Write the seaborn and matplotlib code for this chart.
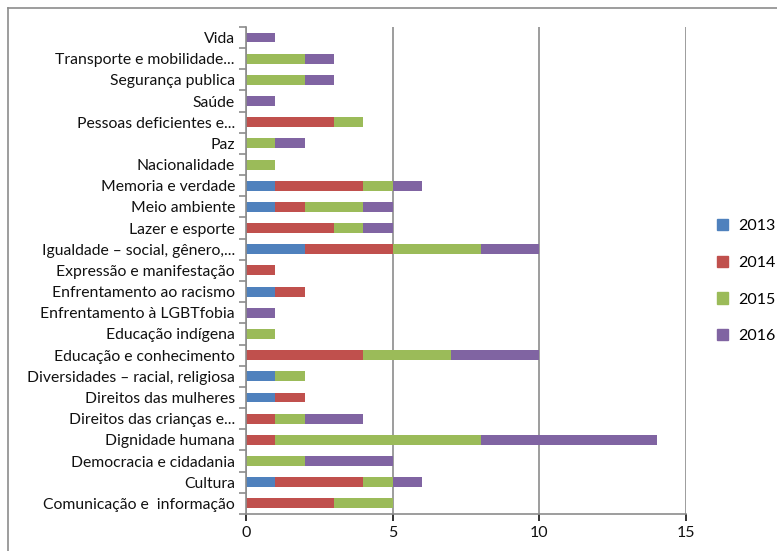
import numpy as np
import pandas as pd
import seaborn as sns
import matplotlib.pyplot as plt
from matplotlib.lines import Line2D
from matplotlib.patches import Patch

categorias = [
    "Vida",
    "Transporte e mobilidade...",
    "Segurança publica",
    "Saúde",
    "Pessoas deficientes e...",
    "Paz",
    "Nacionalidade",
    "Memoria e verdade",
    "Meio ambiente",
    "Lazer e esporte",
    "Igualdade \u2013 social, gênero,...",
    "Expressão e manifestação",
    "Enfrentamento ao racismo",
    "Enfrentamento à LGBTfobia",
    "Educação indígena",
    "Educação e conhecimento",
    "Diversidades \u2013 racial, religiosa",
    "Direitos das mulheres",
    "Direitos das crianças e...",
    "Dignidade humana",
    "Democracia e cidadania",
    "Cultura",
    "Comunicação e  informação",
]
anni = ["2013", "2014", "2015", "2016"]
v2013 = [0, 0, 0, 0, 0, 0, 0, 1, 1, 0, 2, 0, 1, 0, 0, 0, 1, 1, 0, 0, 0, 1, 0]
v2014 = [0, 0, 0, 0, 3, 0, 0, 3, 1, 3, 3, 1, 1, 0, 0, 4, 0, 1, 1, 1, 0, 3, 3]
v2015 = [0, 2, 2, 0, 1, 1, 1, 1, 2, 1, 3, 0, 0, 0, 1, 3, 1, 0, 1, 7, 2, 1, 2]
v2016 = [1, 1, 1, 1, 0, 1, 0, 1, 1, 1, 2, 0, 0, 1, 0, 3, 0, 0, 2, 6, 3, 1, 0]
colori = ["#4F81BD", "#C0504D", "#9BBB59", "#8064A2"]

plt.rcParams["font.family"] = ["Lato", "DejaVu Sans"]

df = pd.DataFrame({"cat": categorias, "2013": v2013, "2014": v2014,
                   "2015": v2015, "2016": v2016})
cum = df[anni].cumsum(axis=1)

fig = plt.figure(figsize=(7.77, 5.51), dpi=100)
ax = fig.add_axes([0.3166, 0.0672, 0.5663, 0.884])

# barre sovrapposte dal totale verso il basso
for anno, col in reversed(list(zip(anni, colori))):
    sns.barplot(x=cum[anno], y=df["cat"], color=col, width=0.47,
                saturation=1, ax=ax, orient="h")

ax.set_xlim(0, 15)
ax.set_ylim(len(categorias) - 0.5, -0.5)
ax.set_xticks([0, 5, 10, 15])
ax.set_xlabel("")
ax.set_ylabel("")
ax.grid(axis="x", color="#8c8c8c", linewidth=1.2)
ax.set_axisbelow(True)
for s in ["top", "right"]:
    ax.spines[s].set_visible(False)
for s in ["left", "bottom"]:
    ax.spines[s].set_color("#8c8c8c")
    ax.spines[s].set_linewidth(1.2)
ax.set_yticks(np.arange(-0.5, len(categorias)), minor=True)
ax.tick_params(axis="y", which="major", length=0, pad=8, labelsize=11.3, colors="#111111")
ax.tick_params(axis="y", which="minor", length=5, color="#8c8c8c", width=1.2)
ax.tick_params(axis="x", length=5, color="#8c8c8c", width=1.2, labelsize=11.5, pad=4)
ax.tick_params(axis="x", colors="#111111")

handles = [Patch(color=c) for c in colori]
ax.legend(handles, anni, loc="center left", bbox_to_anchor=(1.038, 0.478), frameon=False,
          fontsize=11.5, handlelength=0.7, handleheight=0.7, handletextpad=0.6,
          labelspacing=1.4)

fig.add_artist(Line2D([8 / 777, 1], [1 - 8 / 551, 1 - 8 / 551], color="#8c8c8c", lw=1.2))
fig.add_artist(Line2D([8 / 777, 8 / 777], [0, 1 - 8 / 551], color="#8c8c8c", lw=1.2))

fig.savefig("out.png", dpi=100)
